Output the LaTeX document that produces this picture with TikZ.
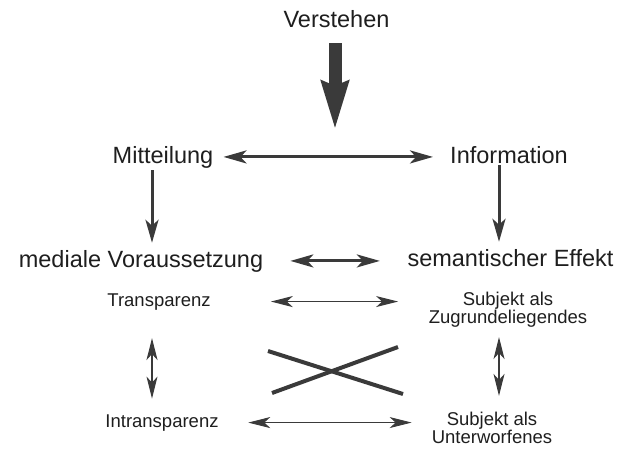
\documentclass[tikz,border=0pt]{standalone}
\usepackage{fontspec}
\setmainfont{Liberation Sans}
\usetikzlibrary{arrows.meta}

\definecolor{pfeilgrau}{HTML}{3A3A3A}
\definecolor{textgrau}{HTML}{1E1E1E}

\tikzset{
    gross/.style={inner sep=0pt, anchor=base, text=textgrau, font=\fontsize{23.5}{28}\selectfont},
    klein/.style={inner sep=0pt, anchor=base, text=textgrau, align=center, font=\fontsize{18.5}{18}\selectfont},
    dickpfeil/.style={draw=pfeilgrau, line width=3pt,
        {Stealth[length=23pt, width=13pt, inset=6pt, fill=pfeilgrau]}-{Stealth[length=23pt, width=13pt, inset=6pt, fill=pfeilgrau]}},
    abpfeil/.style={draw=pfeilgrau, line width=3pt,
        -{Stealth[length=23pt, width=13pt, inset=6pt, fill=pfeilgrau]}},
    duennpfeil/.style={draw=pfeilgrau, line width=1.2pt,
        {Stealth[length=22pt, width=11pt, inset=6pt, fill=pfeilgrau]}-{Stealth[length=22pt, width=11pt, inset=6pt, fill=pfeilgrau]}},
}

\begin{document}
\begin{tikzpicture}[x=1pt,y=-1pt]
    \useasboundingbox (0,0) rectangle (620,448);

    % obere Ebene
    \node[gross] (verst) at (336.5,27) {Verstehen};
    \node[gross] (mit)   at (163,163) {Mitteilung};
    \node[gross] (info)  at (509,163) {Information};
    \node[gross] (med)   at (141,267) {mediale Voraussetzung};
    \node[gross] (sem)   at (510.5,266) {semantischer Effekt};

    % untere Ebene (base = letzte Zeile)
    \node[klein] (trans) at (159,306) {Transparenz};
    \node[klein] (zugr)  at (508,323) {Subjekt als\\Zugrundeliegendes};
    \node[klein] (intr)  at (162,427) {Intransparenz};
    \node[klein] (unterw) at (492,443) {Subjekt als\\Unterworfenes};

    % grosser Pfeil von oben
    \coordinate (ziel) at (335,130);
    \draw[draw=pfeilgrau, line width=13pt, shorten <=16pt,
        -{Stealth[length=48pt, width=26pt, inset=4pt, fill=pfeilgrau]}]
        (verst.south -| ziel) -- (ziel);

    \draw[dickpfeil, shorten <=10pt, shorten >=17pt] (mit.east) -- (mit.east -| info.west);
    \draw[abpfeil, shorten <=2pt, shorten >=7pt] ([xshift=-11pt]mit.south) -- ([xshift=-11pt]mit.south |- med.north);
    \draw[abpfeil, shorten <=2pt, shorten >=7pt] ([xshift=-10pt]info.south) -- ([xshift=-10pt]info.south |- sem.north);
    \draw[dickpfeil, shorten <=27pt, shorten >=27.5pt] (med.east) -- (med.east -| sem.west);

    \draw[duennpfeil, shorten <=60pt, shorten >=30.5pt] (trans.east) -- (trans.east -| zugr.west);
    \draw[duennpfeil, line width=0.8pt, shorten <=29.5pt, shorten >=20pt] (intr.east) -- (intr.east -| unterw.west);
    \draw[duennpfeil, shorten <=28pt, shorten >=15.5pt] ([xshift=-7pt]trans.south) -- ([xshift=-7pt]trans.south |- intr.north);
    \draw[duennpfeil, shorten <=10pt, shorten >=15.5pt] ([xshift=-9pt]zugr.south) -- ([xshift=-9pt]zugr.south |- unterw.north);

    % Kreuz
    \draw[pfeilgrau, line width=4pt] (268,351) -- (403,394);
    \draw[pfeilgrau, line width=4pt] (272,393) -- (398,347);
\end{tikzpicture}
\end{document}
